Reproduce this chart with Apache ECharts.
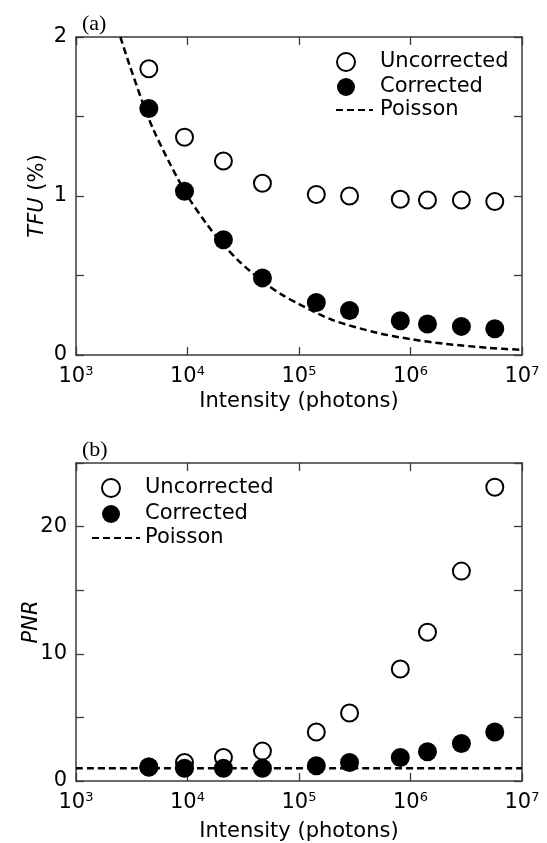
<!DOCTYPE html>
<html>
<head>
<meta charset="utf-8">
<script src="https://cdn.jsdelivr.net/npm/echarts@6/dist/echarts.min.js"></script>
<style>
html,body{margin:0;padding:0;background:#fff;}
#chart{width:547px;height:843px;}
</style>
</head>
<body>
<div id="chart"></div>
<script>
// ---- data ----
const intensity = [4.5e3, 9.4e3, 2.1e4, 4.7e4, 1.43e5, 2.84e5, 8.1e5, 1.42e6, 2.86e6, 5.7e6];
const tfuUncorrected = [1.80, 1.37, 1.22, 1.08, 1.01, 1.00, 0.98, 0.975, 0.975, 0.965];
const tfuCorrected = [1.55, 1.03, 0.725, 0.485, 0.33, 0.28, 0.215, 0.195, 0.18, 0.165];
const poissonTfuX = [2500, 3000, 4000, 5000, 7000, 1e4, 1.5e4, 2e4, 3e4, 5e4, 7e4, 1e5, 2e5, 5e5, 1e6, 2e6, 5e6, 1e7];
const poissonTfuY = [2.0, 1.83, 1.58, 1.41, 1.20, 1.0, 0.82, 0.71, 0.58, 0.45, 0.38, 0.32, 0.22, 0.14, 0.10, 0.071, 0.045, 0.032];
const pnrUncorrected = [1.1, 1.45, 1.85, 2.35, 3.85, 5.35, 8.8, 11.7, 16.5, 23.1];
const pnrCorrected = [1.1, 1.0, 1.0, 1.0, 1.2, 1.45, 1.85, 2.3, 2.95, 3.85];
const poissonPnrX = [1e3, 1e7];
const poissonPnrY = [1, 1];
const seriesNames = ['Uncorrected', 'Corrected', 'Poisson'];
const panelLabels = ['(a)', '(b)'];
const xTitle = 'Intensity (photons)';

// ---- styling ----
const FONT = 'DejaVu Sans';
const AX = '#3a3a3a';
const pairs = (xs, ys) => xs.map((x, i) => [x, ys[i]]);

function xAxes(grid, nameGap) {
  const base = {
    type: 'log', logBase: 10, min: 1e3, max: 1e7, gridIndex: grid,
    axisLine: { show: true, onZero: false, lineStyle: { color: AX, width: 1.5 } },
    axisTick: { show: true, inside: true, length: 8, lineStyle: { color: AX, width: 1.3 } },
    minorTick: { show: false }, splitLine: { show: false }
  };
  return [
    Object.assign({}, base, {
      position: 'bottom',
      name: xTitle, nameLocation: 'middle', nameGap: nameGap, nameMoveOverlap: false,
      nameTextStyle: { fontFamily: FONT, fontSize: 21, color: '#000' },
      axisLabel: {
        margin: 10,
        formatter: v => '{b|10}{s|' + Math.round(Math.log10(v)) + '}',
        rich: {
          b: { fontFamily: FONT, fontSize: 21, color: '#000', lineHeight: 24 },
          s: { fontFamily: FONT, fontSize: 13, color: '#000', lineHeight: 15, verticalAlign: 'top' }
        }
      }
    }),
    Object.assign({}, base, { position: 'top', axisLabel: { show: false } })
  ];
}

function yAxes(grid, max, step, labelStep, name, nameGap) {
  const base = {
    type: 'value', min: 0, max: max, interval: step, gridIndex: grid,
    axisLine: { show: true, onZero: false, lineStyle: { color: AX, width: 1.5 } },
    axisTick: { show: true, inside: true, length: 8, lineStyle: { color: AX, width: 1.3 } },
    splitLine: { show: false }
  };
  return [
    Object.assign({}, base, {
      position: 'left',
      name: name, nameLocation: 'middle', nameGap: nameGap, nameMoveOverlap: false,
      nameTextStyle: {
        fontFamily: FONT, fontSize: 21, color: '#000',
        rich: { i: { fontFamily: FONT, fontSize: 21, color: '#000', fontStyle: 'italic' } }
      },
      axisLabel: {
        margin: 9, fontFamily: FONT, fontSize: 21, color: '#000',
        formatter: v => (Math.abs(v / labelStep - Math.round(v / labelStep)) < 1e-9 ? String(v) : '')
      }
    }),
    Object.assign({}, base, { position: 'right', axisLabel: { show: false } })
  ];
}

function panelSeries(xi, yi, poisson, unc, cor) {
  return [
    {
      name: seriesNames[2], type: 'line', xAxisIndex: xi, yAxisIndex: yi,
      data: poisson, symbol: 'none', smooth: 0.3, silent: true,
      itemStyle: { color: 'rgba(0,0,0,0)' },
      lineStyle: { color: '#000', width: 2.5, type: [7, 4] }, z: 2
    },
    {
      name: seriesNames[0], type: 'scatter', xAxisIndex: xi, yAxisIndex: yi,
      data: pairs(intensity, unc), symbol: 'circle', symbolSize: 17,
      itemStyle: { color: '#fff', borderColor: '#000', borderWidth: 2, opacity: 1 }, z: 3
    },
    {
      name: seriesNames[1], type: 'scatter', xAxisIndex: xi, yAxisIndex: yi,
      data: pairs(intensity, cor), symbol: 'circle', symbolSize: 19,
      itemStyle: { color: '#000', opacity: 1 }, z: 4
    }
  ];
}

const legendText = pad => ({ fontFamily: FONT, fontSize: 21, color: '#000', lineHeight: 24, padding: pad });

const option = {
  backgroundColor: '#fff',
  animation: false,
  title: [
    { text: panelLabels[0], left: 82, top: 13, padding: 0,
      textStyle: { fontFamily: 'Liberation Serif', fontSize: 22, fontWeight: 'normal', color: '#000' } },
    { text: panelLabels[1], left: 82, top: 439, padding: 0,
      textStyle: { fontFamily: 'Liberation Serif', fontSize: 22, fontWeight: 'normal', color: '#000' } }
  ],
  legend: [
    { data: [seriesNames[0], seriesNames[1]], orient: 'vertical', left: 336, top: 50, padding: 0,
      itemWidth: 18, itemHeight: 18, itemGap: 1, selectedMode: false, textStyle: legendText([0, 0, 0, 20]) },
    { data: [seriesNames[2]], orient: 'vertical', left: 335, top: 98, padding: 0,
      itemWidth: 37, itemHeight: 18, selectedMode: false, itemStyle: { opacity: 0 },
      textStyle: legendText([0, 0, 0, 2]) },
    { data: [seriesNames[0], seriesNames[1]], orient: 'vertical', left: 101, top: 476, padding: 0,
      itemWidth: 18, itemHeight: 18, itemGap: 2, selectedMode: false, textStyle: legendText([0, 0, 0, 20]) },
    { data: [seriesNames[2]], orient: 'vertical', left: 91, top: 526, padding: 0,
      itemWidth: 48, itemHeight: 18, selectedMode: false, itemStyle: { opacity: 0 },
      textStyle: legendText([0, 0, 0, 0]) }
  ],
  grid: [
    { left: 76, top: 37, width: 446, height: 318 },
    { left: 76, top: 463, width: 446, height: 318 }
  ],
  xAxis: [].concat(xAxes(0, 36), xAxes(1, 40)),
  yAxis: [].concat(yAxes(0, 2, 0.5, 1, '{i|TFU} (%)', 28), yAxes(1, 25, 5, 10, '{i|PNR}', 34)),
  series: [].concat(
    panelSeries(0, 0, pairs(poissonTfuX, poissonTfuY), tfuUncorrected, tfuCorrected),
    panelSeries(2, 2, pairs(poissonPnrX, poissonPnrY), pnrUncorrected, pnrCorrected)
  )
};

const chart = echarts.init(document.getElementById('chart'), null, { renderer: 'canvas' });
chart.setOption(option);
</script>
</body>
</html>
